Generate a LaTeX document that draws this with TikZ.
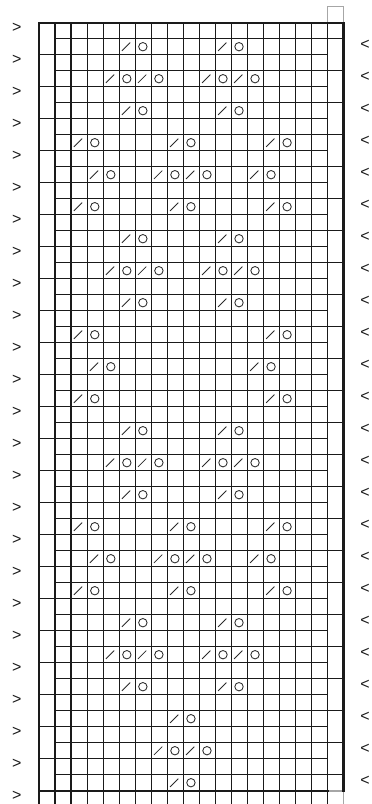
\documentclass[tikz,border=0pt]{standalone}
\usepackage{fontspec}
\setmainfont{Liberation Sans}
\definecolor{gridc}{HTML}{1A1A1A}
\definecolor{symc}{HTML}{2A2A2A}
\definecolor{edgegray}{HTML}{A6A6A6}
\tikzset{
  gridln/.style={draw=gridc, line width=1.15pt},
  borderln/.style={draw=gridc, line width=2.4pt},
  grayln/.style={draw=edgegray, line width=1.1pt},
  graythick/.style={draw=edgegray, line width=2.4pt},
  symln/.style={draw=symc, line width=0.85pt},
  rowmark/.style={inner sep=0pt, text=gridc, font=\fontsize{16}{16}\selectfont}
}
\begin{document}
\begin{tikzpicture}[x=1pt,y=-1pt]
\useasboundingbox (0,0) rectangle (372,804);
\def\cw{16.025}
\def\xo{39}
\def\yo{22.7}
\def\rh{16}
% vertical interior lines (continue below the chart)
\foreach \c in {1,...,18}
  \draw[gridln] ({\xo+\c*\cw},\yo) -- ({\xo+\c*\cw},804);
% horizontal lines: even boundaries include left edge column
\foreach \b in {2,4,...,46}
  \draw[gridln] (\xo,{\yo+\b*\rh}) -- ({\xo+18*\cw},{\yo+\b*\rh});
% odd boundaries include right edge column
\foreach \b in {1,3,...,47}
  \draw[gridln] ({\xo+\cw},{\yo+\b*\rh}) -- ({\xo+19*\cw},{\yo+\b*\rh});
% gray cells beyond chart in right edge column
\draw[grayln] ({\xo+18*\cw},\yo) -- ({\xo+18*\cw},6.7) -- ({\xo+19*\cw},6.7) -- ({\xo+19*\cw},\yo);
\draw[grayln] ({\xo+19*\cw},{\yo+48*\rh}) -- ({\xo+19*\cw},804);
\draw[graythick] ({\xo+18*\cw},{\yo+48*\rh}) -- ({\xo+19*\cw},{\yo+48*\rh});
% left line below chart
\draw[gridln] (\xo,{\yo+48*\rh}) -- (\xo,804);
% thick border
\draw[borderln, line cap=rect] ({\xo+18*\cw},{\yo+48*\rh}) -- (\xo,{\yo+48*\rh}) -- (\xo,\yo) -- ({\xo+19*\cw},\yo) -- ({\xo+19*\cw},{\yo+48*\rh});
% symbols: slash in column c, yarn over in column c+1
\foreach \r/\c in {1/5,1/11,
  3/4,3/6,3/10,3/12,
  5/5,5/11,
  7/2,7/8,7/14,
  9/3,9/7,9/9,9/13,
  11/2,11/8,11/14,
  13/5,13/11,
  15/4,15/6,15/10,15/12,
  17/5,17/11,
  19/2,19/14,
  21/3,21/13,
  23/2,23/14,
  25/5,25/11,
  27/4,27/6,27/10,27/12,
  29/5,29/11,
  31/2,31/8,31/14,
  33/3,33/7,33/9,33/13,
  35/2,35/8,35/14,
  37/5,37/11,
  39/4,39/6,39/10,39/12,
  41/5,41/11,
  43/8,
  45/7,45/9,
  47/8} {
  \draw[symln] ({\xo+\c*\cw+0.5*\cw-5.2},{\yo+\r*\rh+12.2}) -- ++(8.3,-8.3);
  \draw[symln] ({\xo+(\c+1)*\cw+0.5*\cw-0.3},{\yo+\r*\rh+8}) circle[radius=4.2];
}
% row markers
\foreach \k in {0,...,24}
  \node[rowmark] (gt\k) at (16.7,{28.3+32*\k}) {>};
\foreach \k in {0,...,23}
  \node[rowmark] (lt\k) at (365,{44.8+32*\k}) {<};
\end{tikzpicture}
\end{document}
